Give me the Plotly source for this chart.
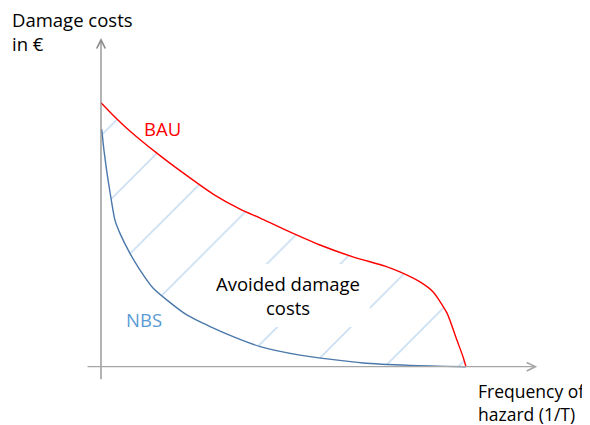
import plotly.graph_objects as go

# Frequency of hazard (normalised 0..1) and damage costs (normalised, BAU start = 1)
bau_x = [0.0, 0.038, 0.079, 0.153, 0.225, 0.307, 0.381, 0.436, 0.499, 0.600,
         0.690, 0.778, 0.819, 0.874, 0.910, 0.948, 0.975, 0.992, 1.0]
bau_y = [1.0, 0.946, 0.893, 0.809, 0.734, 0.654, 0.597, 0.563, 0.522, 0.461,
         0.416, 0.381, 0.359, 0.321, 0.283, 0.203, 0.101, 0.037, 0.0]

nbs_x = [0.002, 0.008, 0.016, 0.025, 0.038, 0.052, 0.079, 0.107, 0.143, 0.180,
         0.235, 0.299, 0.362, 0.436, 0.545, 0.718, 0.847, 1.0]
nbs_y = [0.899, 0.821, 0.738, 0.658, 0.556, 0.505, 0.430, 0.366, 0.297, 0.253,
         0.196, 0.152, 0.114, 0.076, 0.044, 0.014, 0.005, 0.0]

series_labels = ["BAU", "NBS"]
y_title = "Damage costs<br>in €"
x_title = "Frequency of<br>hazard (1/T)"
area_label = "Avoided damage<br>costs"

FONT = "Open Sans"
FS = 18.5
LINE_STYLE = dict(shape="spline", smoothing=0.6, width=1.4)

# white text box behind the area label (layout element, data units)
box_cx, box_cy, box_w, box_h = 0.511, 0.270, 0.452, 0.239
box_xs = [box_cx - box_w / 2, box_cx + box_w / 2, box_cx + box_w / 2, box_cx - box_w / 2]
box_ys = [box_cy - box_h / 2, box_cy - box_h / 2, box_cy + box_h / 2, box_cy + box_h / 2]

fig = go.Figure()

# base for the hatched area
fig.add_trace(go.Scatter(
    x=nbs_x, y=nbs_y, mode="lines",
    line=dict(color="rgba(0,0,0,0)", **LINE_STYLE),
    hoverinfo="skip", showlegend=False))

# hatched avoided-damage area between NBS and BAU
fig.add_trace(go.Scatter(
    x=bau_x, y=bau_y, mode="lines", fill="tonexty",
    fillcolor="rgba(0,0,0,0)",
    fillpattern=dict(shape="/", size=52, solidity=0.03,
                     fgcolor="#86B5E2", bgcolor="rgba(0,0,0,0)"),
    line=dict(color="rgba(0,0,0,0)", **LINE_STYLE),
    hoverinfo="skip", showlegend=False))

# white label box over the hatching
fig.add_trace(go.Scatter(
    x=box_xs, y=box_ys, mode="lines", fill="toself", fillcolor="#FFFFFF",
    line=dict(width=0, color="#FFFFFF"), hoverinfo="skip", showlegend=False))

# curves
fig.add_trace(go.Scatter(
    x=bau_x, y=bau_y, mode="lines", name=series_labels[0],
    line=dict(color="#FF0000", **LINE_STYLE),
    hoverinfo="skip", showlegend=False))
fig.add_trace(go.Scatter(
    x=nbs_x, y=nbs_y, mode="lines", name=series_labels[1],
    line=dict(color="#4a78aa", **LINE_STYLE),
    hoverinfo="skip", showlegend=False))

annotations = [
    # y axis arrow
    dict(x=0, y=1.245, ax=0, ay=-0.053, xref="x", yref="y", axref="x", ayref="y",
         text="", showarrow=True, arrowhead=5, arrowsize=1.3, arrowwidth=1.3,
         arrowcolor="#8c8c8c", standoff=0, startstandoff=0),
    # x axis arrow
    dict(x=1.195, y=0, ax=-0.041, ay=0, xref="x", yref="y", axref="x", ayref="y",
         text="", showarrow=True, arrowhead=5, arrowsize=1.3, arrowwidth=1.3,
         arrowcolor="#a6a6a6", standoff=0, startstandoff=0),
    dict(x=-0.249, y=1.270, xref="x", yref="y", text=y_title, showarrow=False,
         xanchor="left", yanchor="middle", align="left",
         font=dict(family=FONT, size=FS, color="#000000")),
    dict(x=1.027, y=-0.135, xref="x", yref="y", text=x_title, showarrow=False,
         xanchor="left", yanchor="middle", align="left",
         font=dict(family=FONT, size=17.5, color="#000000")),
    dict(x=0.168, y=0.902, xref="x", yref="y", text=series_labels[0], showarrow=False,
         xanchor="center", yanchor="middle",
         font=dict(family=FONT, size=FS, color="#FF0000")),
    dict(x=0.117, y=0.180, xref="x", yref="y", text=series_labels[1], showarrow=False,
         xanchor="center", yanchor="middle",
         font=dict(family=FONT, size=FS, color="#5B9BD5")),
    dict(x=0.511, y=0.268, xref="x", yref="y", text=area_label, showarrow=False,
         xanchor="center", yanchor="middle", align="center",
         font=dict(family=FONT, size=FS, color="#000000")),
]

# the page body has an 8px margin, so the figure is 8px smaller than the window
fig.update_layout(
    width=582, height=417,
    margin=dict(l=0, r=0, t=0, b=0),
    paper_bgcolor="#FFFFFF", plot_bgcolor="#FFFFFF",
    xaxis=dict(visible=False, range=[-0.2548, 1.3397], fixedrange=True),
    yaxis=dict(visible=False, range=[-0.2208, 1.3587], fixedrange=True),
    annotations=annotations,
    showlegend=False,
)

fig.write_html("out.html", config={"displayModeBar": False})
